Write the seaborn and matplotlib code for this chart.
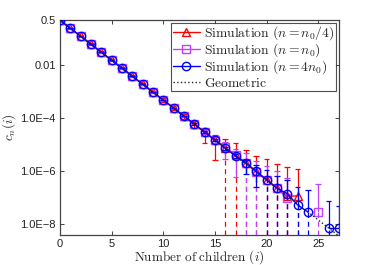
import numpy as np
import pandas as pd
import seaborn as sns
import matplotlib
matplotlib.use('Agg')
import matplotlib.pyplot as plt
from matplotlib.lines import Line2D

nan = np.nan

# number of children i, geometric law
children = list(range(28))
geometric = [5.0e-01, 2.5e-01, 1.25e-01, 6.25e-02, 3.13e-02, 1.56e-02, 7.81e-03,
             3.91e-03, 1.95e-03, 9.77e-04, 4.88e-04, 2.44e-04, 1.22e-04, 6.10e-05,
             3.05e-05, 1.53e-05, 7.63e-06, 3.81e-06, 1.91e-06, 9.54e-07, 4.77e-07,
             2.38e-07, 1.19e-07, 5.96e-08, 2.98e-08, 1.49e-08, 7.45e-09, 3.73e-09]

# simulation n = n0/4
red_i = list(range(24))
red_c = [0.5, 0.25, 0.125, 0.062, 0.031, 0.0157, 0.0078, 0.0039, 0.00196, 9.8e-4,
         4.9e-4, 2.45e-4, 1.22e-4, 6.1e-5, 3.0e-5, 1.58e-5, 7.9e-6, 4.2e-6, 2.0e-6,
         1.0e-6, 4.8e-7, 2.4e-7, 1.15e-7, 1.2e-7]
red_hi = [0.52, 0.26, 0.131, 0.066, 0.033, 0.0168, 0.0084, 0.0043, 0.00218, 1.1e-3,
          5.6e-4, 2.85e-4, 1.48e-4, 8.1e-5, 4.5e-5, 2.4e-5, 1.7e-5, 1.17e-5, 6.6e-6,
          3.9e-6, 2.95e-6, 1.9e-6, 1.45e-6, 1.23e-6]
red_lo = [0.48, 0.24, 0.119, 0.058, 0.029, 0.0146, 0.0072, 0.0035, 0.00175, 8.7e-4,
          4.2e-4, 2.05e-4, 9.8e-5, 4.5e-5, 1.2e-5, 2.6e-6, nan, nan, nan,
          nan, nan, nan, nan, nan]

# simulation n = n0
mag_i = list(range(23)) + [25]
mag_c = [0.5, 0.25, 0.125, 0.0625, 0.031, 0.0156, 0.0078, 0.0039, 0.00195, 9.8e-4,
         4.9e-4, 2.44e-4, 1.22e-4, 6.1e-5, 3.05e-5, 1.53e-5, 8.0e-6, 4.1e-6, 2.0e-6,
         9.6e-7, 4.8e-7, 2.4e-7, 1.0e-7, 2.95e-8]
mag_hi = [0.51, 0.255, 0.128, 0.064, 0.032, 0.016, 0.0081, 0.0041, 0.00205, 1.03e-3,
          5.2e-4, 2.6e-4, 1.32e-4, 6.8e-5, 3.5e-5, 1.9e-5, 1.3e-5, 7.2e-6, 5.1e-6,
          2.4e-6, 1.55e-6, 1.0e-6, 5.6e-7, 3.3e-7]
mag_lo = [0.49, 0.245, 0.122, 0.061, 0.030, 0.0152, 0.0075, 0.0037, 0.00185, 9.3e-4,
          4.6e-4, 2.28e-4, 1.12e-4, 5.4e-5, 2.6e-5, 1.2e-5, 3.0e-6, 6.3e-7, nan,
          nan, nan, nan, nan, nan]

# simulation n = 4 n0
blue_i = list(range(25)) + [26, 27]
blue_c = [0.5, 0.25, 0.125, 0.0625, 0.0313, 0.0156, 0.0078, 0.0039, 0.00195, 9.8e-4,
          4.9e-4, 2.44e-4, 1.22e-4, 6.1e-5, 3.05e-5, 1.53e-5, 7.6e-6, 3.8e-6, 2.1e-6,
          1.0e-6, 4.9e-7, 2.35e-7, 1.45e-7, 5.5e-8, 2.95e-8, 7.5e-9, 7.5e-9]
blue_hi = [0.505, 0.252, 0.126, 0.063, 0.0316, 0.0158, 0.0079, 0.00395, 0.00198, 9.95e-4,
           5.0e-4, 2.5e-4, 1.26e-4, 6.4e-5, 3.25e-5, 1.66e-5, 8.6e-6, 4.6e-6, 2.6e-6,
           1.8e-6, 1.15e-6, 6.5e-7, 4.7e-7, 2.5e-7, 2.0e-7, 7.8e-8, 5.0e-8]
blue_lo = [0.495, 0.248, 0.124, 0.062, 0.031, 0.0154, 0.0077, 0.00385, 0.00192, 9.65e-4,
           4.8e-4, 2.38e-4, 1.18e-4, 5.8e-5, 2.85e-5, 1.4e-5, 6.6e-6, 3.1e-6, 7.9e-7,
           2.6e-7, nan, nan, nan, nan, nan, nan, nan]

labels = [r'$\mathrm{Simulation}\ (n = n_0/4)$', r'$\mathrm{Simulation}\ (n = n_0)$',
          r'$\mathrm{Simulation}\ (n = 4n_0)$', r'$\mathrm{Geometric}$']
colors = ['#ff0000', '#bf40ff', '#0000ff']
markers = ['^', 's', 'o']

sns.set_style('ticks')
plt.rcParams['font.family'] = ['Liberation Sans', 'DejaVu Sans']
plt.rcParams['mathtext.fontset'] = 'cm'

ymin, ymax = 4.0e-9, 0.5

fig = plt.figure(figsize=(3.74, 2.65), dpi=100)
ax = fig.add_axes([0.160, 0.113, 0.746, 0.811])

series = [(red_i, red_c, red_hi, red_lo), (mag_i, mag_c, mag_hi, mag_lo),
          (blue_i, blue_c, blue_hi, blue_lo)]

for k, (xs, cs, his, los) in enumerate(series):
    col = colors[k]
    # split into runs of consecutive i so gaps are not joined
    seg = np.concatenate([[0], np.cumsum(np.diff(xs) > 1)])
    df = pd.DataFrame({'i': xs, 'c': cs, 'seg': seg})
    sns.lineplot(data=df, x='i', y='c', units='seg', estimator=None, ax=ax,
                 color=col, lw=1.0, marker=markers[k], markersize=6,
                 markerfacecolor='none', markeredgecolor=col, markeredgewidth=1.0,
                 zorder=3 + k)
    xs = np.array(xs, float)
    cs = np.array(cs)
    his = np.array(his)
    los = np.array(los)
    cw = 0.28
    ax.vlines(xs, cs, his, colors=col, lw=0.9, zorder=3 + k)
    ax.hlines(his, xs - cw, xs + cw, colors=col, lw=0.9, zorder=3 + k)
    ok = ~np.isnan(los)
    ax.vlines(xs[ok], los[ok], cs[ok], colors=col, lw=0.9, zorder=3 + k)
    ax.hlines(los[ok], xs[ok] - cw, xs[ok] + cw, colors=col, lw=0.9, zorder=3 + k)
    ax.vlines(xs[~ok], ymin, cs[~ok], colors=col, lw=0.9, linestyles=(0, (4, 3)),
              zorder=2 + k)

gdf = pd.DataFrame({'i': children, 'c': geometric})
sns.lineplot(data=gdf, x='i', y='c', ax=ax, color='#222222', lw=1.0,
             linestyle=':', zorder=7)

ax.set_yscale('log')
ax.set_xlim(0, 27)
ax.set_ylim(ymin, ymax)
ax.set_xticks([0, 5, 10, 15, 20, 25])
ax.set_xticklabels(['0', '5', '10', '15', '20', '25'])
ax.set_yticks([0.5, 1e-2, 1e-4, 1e-6, 1e-8])
ax.set_yticklabels(['0.5', '0.01', '1.0E\u22124', '1.0E\u22126', '1.0E\u22128'])
ax.minorticks_off()
ax.tick_params(direction='in', length=3, width=0.6, top=True, right=True,
               labelsize=8, pad=3, colors='#222222')
for s in ax.spines.values():
    s.set_color('#444444')
    s.set_linewidth(0.9)

ax.set_xlabel(r'$\mathrm{Number\ of\ children}\ (i)$', fontsize=9.5, labelpad=-1)
ax.set_ylabel(r'$c_n(i)$', fontsize=9.5, labelpad=1.5)

handles = [Line2D([], [], color=colors[k], lw=1.0, marker=markers[k], markersize=6,
                  markerfacecolor='none', markeredgecolor=colors[k]) for k in range(3)]
handles.append(Line2D([], [], color='#222222', lw=1.0, linestyle=':'))
leg = ax.legend(handles, labels, loc='upper right', fontsize=9.8, frameon=True,
                fancybox=False, borderaxespad=0.2, handlelength=2.0,
                handletextpad=0.3, labelspacing=-0.05, borderpad=0.12)
leg.get_frame().set_edgecolor('#222222')
leg.get_frame().set_linewidth(0.8)

fig.savefig('out.png', dpi=100)
